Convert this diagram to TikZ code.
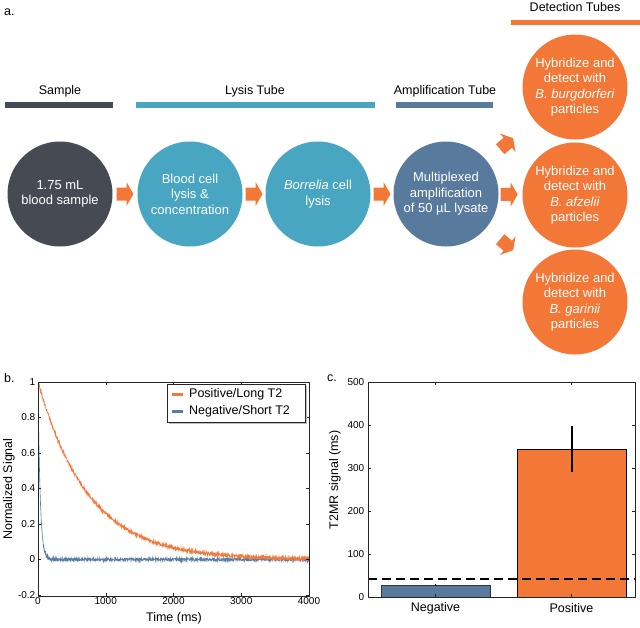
\documentclass[tikz,border=0pt]{standalone}
\usepackage{fontspec}
\setmainfont{Liberation Sans}
\usetikzlibrary{calc}
\definecolor{dgray}{HTML}{464A53}
\definecolor{lysis}{HTML}{49A6C2}
\definecolor{ampb}{HTML}{587A9C}
\definecolor{orng}{HTML}{F37736}
\definecolor{porng}{HTML}{F07B3F}
\definecolor{pblue}{HTML}{5A7DA2}
\tikzset{
  stepcirc/.style={circle, minimum size=105pt, inner sep=0pt, text=white, align=center, font=\fontsize{13}{15.5}\selectfont},
  hdr/.style={font=\fontsize{12.5}{14}\selectfont, inner sep=0pt},
  hbar/.style={line width=5.5pt},
  blockarrow/.pic={\fill[orng] (-8.5,-6.5) -- (1.5,-6.5) -- (1.5,-12) -- (8.5,0) -- (1.5,12) -- (1.5,6.5) -- (-8.5,6.5) -- cycle;},
  tick/.style={font=\fontsize{10}{12}\selectfont, inner sep=1.5pt},
  axlab/.style={font=\fontsize{12.5}{14}\selectfont, inner sep=0pt},
  axbox/.style={draw=black!85, line width=0.6pt},
  tk/.style={black!85, line width=0.5pt}
}
\begin{document}
\begin{tikzpicture}[x=1pt, y=-1pt]
\useasboundingbox (0,0) rectangle (640,627);
\fill[white] (0,0) rectangle (640,627);

% ---------- panel a ----------
\node[hdr, anchor=west] (la) at (4,12) {a.};
\node[hdr] (hs) at (60,91) {Sample};
\node[hdr] (hl) at (255,91) {Lysis Tube};
\node[hdr] (ha) at (445,91) {Amplification Tube};
\node[hdr] (hd) at (575,7) {Detection Tubes};
\draw[hbar, dgray] (5,105) -- (113,105);
\draw[hbar, lysis] (136,105) -- (375,105);
\draw[hbar, ampb] (396,105) -- (493,105);
\draw[hbar, orng] (511,22.5) -- (640,22.5);

\node[stepcirc, fill=dgray] (s) at (60,194) {1.75 mL\\blood sample};
\node[stepcirc, fill=lysis] (l1) at (190,194) {Blood cell\\lysis \&\\concentration};
\node[stepcirc, fill=lysis] (l2) at (318,194) {\textit{Borrelia} cell\\lysis};
\node[stepcirc, fill=ampb] (am) at (446,194) {Multiplexed\\amplification\\of 50 µL lysate};
\node[stepcirc, fill=orng] (d1) at (575,87) {Hybridize and\\detect with\\\textit{B. burgdorferi}\\particles};
\node[stepcirc, fill=orng] (d2) at (575,195) {Hybridize and\\detect with\\\textit{B. afzelii}\\particles};
\node[stepcirc, fill=orng] (d3) at (575,302) {Hybridize and\\detect with\\\textit{B. garinii}\\particles};

\pic at ($(s)!0.5!(l1)$) {blockarrow};
\pic at ($(l1)!0.5!(l2)$) {blockarrow};
\pic at ($(l2)!0.5!(am)$) {blockarrow};
\pic at ($(am)!0.49!(d2)$) {blockarrow};
\pic[rotate=40] at ($(am)!0.47!(d1)$) {blockarrow};
\pic[rotate=-40] at ($(am)!0.47!(d3)$) {blockarrow};

% ---------- panel b ----------
\node[hdr, anchor=west] (lb) at (4,378) {b.};
\begin{scope}
\clip (38,382) rectangle (309,596);
\draw[pblue, line width=0.6pt] plot[domain=0:300, samples=150] ({38+\x*0.06775}, {559.5-177.6*(exp(-\x/32)+0.008*rand)});
\draw[pblue, line width=0.6pt] plot[domain=300:4000, samples=1100] ({38+\x*0.06775}, {559.5-177.6*(0.008*rand)});
\draw[porng, line width=0.6pt] plot[domain=0:4000, samples=1300] ({38+\x*0.06775}, {559.5-177.6*(exp(-\x/740)+0.009*rand)});
\end{scope}
\draw[axbox] (38,382) rectangle (309,596);
\foreach \t in {0,1000,2000,3000,4000} {
  \pgfmathsetmacro\xx{38+\t*0.06775}
  \draw[tk] (\xx,596) -- ++(0,-2.7);
  \draw[tk] (\xx,382) -- ++(0,2.7);
  \node[tick, anchor=north] at (\xx,596) {\t};
}
\foreach \v/\l in {-0.2/-0.2,0/0,0.2/0.2,0.4/0.4,0.6/0.6,0.8/0.8,1/1} {
  \pgfmathsetmacro\yy{559.5-177.6*\v}
  \draw[tk] (38,\yy) -- ++(2.7,0);
  \draw[tk] (309,\yy) -- ++(-2.7,0);
  \node[tick, anchor=east] at (37,\yy) {\l};
}
\node[axlab] (bx) at (174,618) {Time (ms)};
\node[axlab, rotate=90] (by) at (9,489) {Normalized Signal};
% legend
\fill[black!25] (169,386) rectangle (307,424);
\draw[black!85, fill=white, line width=0.6pt] (167,384) rectangle (305,422);
\draw[porng, line width=2.5pt] (172,394.5) -- (183,394.5);
\draw[pblue, line width=2.5pt] (172,411.5) -- (183,411.5);
\node[axlab, anchor=west] (lg1) at (189,394.5) {Positive/Long T2};
\node[axlab, anchor=west] (lg2) at (189,411.5) {Negative/Short T2};

% ---------- panel c ----------
\node[hdr, anchor=west] (lc) at (327,378) {c.};
\fill[ampb] (381,597) rectangle (490,585);
\draw[black!80, line width=0.6pt] (381,597) -- (381,585) -- (490,585) -- (490,597);
\draw[black, line width=0.6pt] (435.5,584) -- (435.5,586);
\draw[fill=orng, draw=black, line width=1pt] (517,597) rectangle (626,449);
\draw[black, line width=1.2pt] (572,472.3) -- (572,425.9);
\draw[black, line width=1.4pt, dash pattern=on 9pt off 5pt] (368,579) -- (635,579);
\draw[axbox] (368,382) rectangle (635,597);
\foreach \v in {0,100,200,300,400,500} {
  \pgfmathsetmacro\yy{597-0.43*\v}
  \draw[tk] (368,\yy) -- ++(2.7,0);
  \draw[tk] (635,\yy) -- ++(-2.7,0);
  \node[tick, anchor=east] at (366,\yy) {\v};
}
\foreach \xx in {435.5,571.5} {
  \draw[tk] (\xx,597) -- ++(0,-2.7);
  \draw[tk] (\xx,382) -- ++(0,2.7);
}
\node[axlab] (cn) at (435.5,608) {Negative};
\node[axlab] (cp) at (571.5,608) {Positive};
\node[axlab, rotate=90] (cy) at (335,480) {T2MR signal (ms)};
\end{tikzpicture}
\end{document}
